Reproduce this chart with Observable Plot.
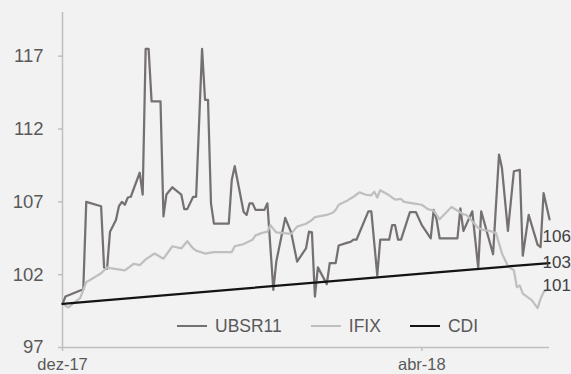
<!DOCTYPE html>
<html>
<head>
<meta charset="utf-8">
<script src="https://cdn.jsdelivr.net/npm/d3@7"></script>
<script src="https://cdn.jsdelivr.net/npm/@observablehq/plot@0.6"></script>
<style>
  html, body { margin: 0; padding: 0; background: #f2f2f2; }
  #wrap { position: relative; width: 571px; height: 374px; background: #f2f2f2; overflow: hidden; }
  #wrap svg g[aria-label="y-axis tick"], #wrap svg g[aria-label="x-axis tick"] { stroke: #bfbfbf; stroke-width: 1.5; }
  #wrap svg g[aria-label="y-axis tick label"], #wrap svg g[aria-label="x-axis tick label"] { fill: #595959; }
  #legend { position: absolute; left: 177px; top: 316px; height: 20px; display: flex; align-items: center;
            font-family: "Liberation Sans", Arial, sans-serif; font-size: 17.5px; color: #595959; white-space: nowrap; }
  #legend .item { display: flex; align-items: center; margin-right: 29px; }
  #legend .sw { display: inline-block; width: 30px; height: 2.5px; margin-right: 8px; }
</style>
</head>
<body>
<div id="wrap"><div id="legend"></div></div>
<script>
// ---- data ----
const seriesNames = ["UBSR11", "IFIX", "CDI"];
const seriesColors = ["#767171", "#bfbfbf", "#141414"];

const ubsr11 = [
  ["2017-12-01",100.0],["2017-12-02",100.5],["2017-12-08",101.0],["2017-12-09",107.0],["2017-12-14",106.7],
  ["2017-12-15",102.5],["2017-12-16",102.4],["2017-12-17",104.95],["2017-12-19",105.75],["2017-12-20",106.7],
  ["2017-12-21",107.0],["2017-12-22",106.8],["2017-12-23",107.3],["2017-12-24",107.35],["2017-12-27",109.0],
  ["2017-12-28",107.5],["2017-12-29",117.5],["2017-12-30",117.5],["2017-12-31",113.9],["2018-01-03",113.9],
  ["2018-01-04",106.0],["2018-01-05",107.5],["2018-01-07",108.0],["2018-01-10",107.5],["2018-01-11",106.5],
  ["2018-01-12",106.5],["2018-01-14",107.35],["2018-01-15",107.35],["2018-01-17",117.5],["2018-01-18",114.0],
  ["2018-01-19",114.0],["2018-01-20",106.9],["2018-01-21",105.5],["2018-01-26",105.5],["2018-01-27",108.5],
  ["2018-01-28",109.45],["2018-01-31",106.3],["2018-02-01",106.1],["2018-02-02",106.9],["2018-02-03",106.9],
  ["2018-02-04",106.45],["2018-02-07",106.45],["2018-02-08",106.9],["2018-02-10",100.95],["2018-02-11",102.9],
  ["2018-02-14",105.9],["2018-02-16",104.9],["2018-02-18",102.9],["2018-02-21",103.8],["2018-02-22",104.95],
  ["2018-02-23",104.9],["2018-02-24",100.5],["2018-02-25",102.5],["2018-02-28",101.35],["2018-03-01",102.8],
  ["2018-03-03",102.8],["2018-03-04",104.0],["2018-03-07",104.2],["2018-03-08",104.25],["2018-03-09",104.4],
  ["2018-03-10",104.4],["2018-03-14",106.35],["2018-03-15",106.35],["2018-03-17",101.95],["2018-03-18",104.4],
  ["2018-03-21",104.4],["2018-03-22",105.4],["2018-03-23",105.4],["2018-03-24",104.4],["2018-03-25",104.4],
  ["2018-03-28",106.3],["2018-03-30",106.3],["2018-04-01",105.4],["2018-04-04",104.5],["2018-04-05",106.45],
  ["2018-04-06",105.75],["2018-04-07",104.5],["2018-04-13",104.5],["2018-04-14",106.55],["2018-04-15",105.0],
  ["2018-04-17",105.9],["2018-04-18",106.35],["2018-04-20",102.45],["2018-04-21",106.35],["2018-04-25",103.4],
  ["2018-04-27",110.25],["2018-04-28",109.3],["2018-04-30",105.0],["2018-05-02",109.1],["2018-05-04",109.2],
  ["2018-05-05",103.3],["2018-05-07",106.1],["2018-05-10",104.05],["2018-05-11",103.9],["2018-05-12",107.6],
  ["2018-05-14",105.8]
];

const ifix = [
  ["2017-12-01",100.0],["2017-12-03",99.75],["2017-12-07",100.4],["2017-12-09",101.5],["2017-12-10",101.6],
  ["2017-12-14",102.1],["2017-12-16",102.5],["2017-12-17",102.45],["2017-12-22",102.3],["2017-12-25",102.75],
  ["2017-12-27",102.65],["2017-12-29",103.05],["2018-01-01",103.45],["2018-01-04",103.1],["2018-01-07",103.95],
  ["2018-01-10",103.8],["2018-01-12",104.3],["2018-01-14",103.8],["2018-01-15",103.65],["2018-01-18",103.45],
  ["2018-01-21",103.55],["2018-01-27",103.55],["2018-01-28",103.95],["2018-01-31",104.1],["2018-02-03",104.4],
  ["2018-02-04",104.7],["2018-02-06",104.85],["2018-02-08",104.95],["2018-02-09",105.4],["2018-02-11",104.9],
  ["2018-02-16",104.8],["2018-02-18",105.3],["2018-02-21",105.5],["2018-02-23",105.75],["2018-02-24",105.95],
  ["2018-02-28",106.1],["2018-03-02",106.25],["2018-03-03",106.45],["2018-03-04",106.8],["2018-03-07",107.1],
  ["2018-03-09",107.35],["2018-03-11",107.65],["2018-03-13",107.5],["2018-03-15",107.45],["2018-03-16",107.7],
  ["2018-03-17",107.3],["2018-03-18",107.8],["2018-03-21",107.45],["2018-03-23",107.15],["2018-03-25",107.2],
  ["2018-03-26",107.0],["2018-03-29",106.9],["2018-04-01",106.8],["2018-04-03",106.5],["2018-04-05",106.4],
  ["2018-04-07",105.8],["2018-04-11",106.65],["2018-04-15",106.15],["2018-04-16",106.1],["2018-04-17",105.9],
  ["2018-04-20",105.2],["2018-04-22",105.05],["2018-04-24",105.0],["2018-04-26",104.85],["2018-04-28",103.45],
  ["2018-04-30",102.6],["2018-05-02",102.3],["2018-05-03",101.15],["2018-05-04",101.25],["2018-05-05",100.7],
  ["2018-05-08",100.25],["2018-05-10",99.7],["2018-05-11",100.35],["2018-05-12",100.8],["2018-05-13",100.95],
  ["2018-05-14",100.95]
];

const cdi = [
  ["2017-12-01",100.0],["2018-01-01",100.53],["2018-02-01",101.06],["2018-03-01",101.54],
  ["2018-04-01",102.07],["2018-05-01",102.58],["2018-05-14",102.8]
];

const yTicks = [97, 102, 107, 112, 117];
const xTickDates = ["2017-12-01", "2018-04-01"];
const xTickLabels = ["dez-17", "abr-18"];
const xStart = "2017-12-01";
const xEnd = "2018-05-14";
const yMin = 97, yMax = 120;

// ---- build ----
const parse = d3.utcParse("%Y-%m-%d");
const seriesData = [ubsr11, ifix, cdi];
const rows = seriesData.flatMap((s, i) => s.map(([d, v]) => ({serie: seriesNames[i], date: parse(d), value: v})));
const lastRows = seriesData.map((s, i) => ({serie: seriesNames[i], date: parse(s[s.length - 1][0]), value: s[s.length - 1][1]}));
const tickLabelMap = new Map(xTickDates.map((d, i) => [+parse(d), xTickLabels[i]]));
const labelDy = {UBSR11: 17, IFIX: -4, CDI: 0};

const font = "'Liberation Sans', Arial, sans-serif";

const chart = Plot.plot({
  width: 571,
  height: 374,
  marginLeft: 62,
  marginRight: 22,
  marginTop: 12,
  marginBottom: 27,
  style: {background: "transparent", fontFamily: font, fontSize: "17px", color: "#595959", overflow: "visible"},
  x: {type: "utc", domain: [parse(xStart), parse(xEnd)], label: null},
  y: {domain: [yMin, yMax], label: null},
  color: {domain: seriesNames, range: seriesColors},
  marks: [
    Plot.ruleX([parse(xStart)], {stroke: "#bfbfbf", strokeWidth: 1.5}),
    Plot.ruleY([yMin], {stroke: "#bfbfbf", strokeWidth: 1.5}),
    Plot.axisY({ticks: yTicks, tickSize: 4, tickPadding: 15, tickFormat: d => String(d), fontSize: 18.5, label: null}),
    Plot.axisX({ticks: xTickDates.map(parse), tickSize: 4, tickPadding: 7, tickFormat: d => tickLabelMap.get(+d), fontSize: 16.5, label: null}),
    Plot.line(rows, {x: "date", y: "value", z: "serie", stroke: "serie", strokeWidth: 2.25, strokeLinejoin: "round"}),
    ...seriesNames.map(name => Plot.text(lastRows.filter(d => d.serie === name), {
      x: "date", y: "value", text: d => d3.format(".0f")(d.value),
      textAnchor: "start", dx: -7, dy: labelDy[name], fill: "#404040", fontSize: 17
    }))
  ]
});

const wrap = document.getElementById("wrap");
wrap.insertBefore(chart, wrap.firstChild);

const legend = document.getElementById("legend");
seriesNames.forEach((name, i) => {
  const item = document.createElement("div");
  item.className = "item";
  const sw = document.createElement("span");
  sw.className = "sw";
  sw.style.background = seriesColors[i];
  const t = document.createElement("span");
  t.textContent = name;
  item.appendChild(sw);
  item.appendChild(t);
  legend.appendChild(item);
});
</script>
</body>
</html>
